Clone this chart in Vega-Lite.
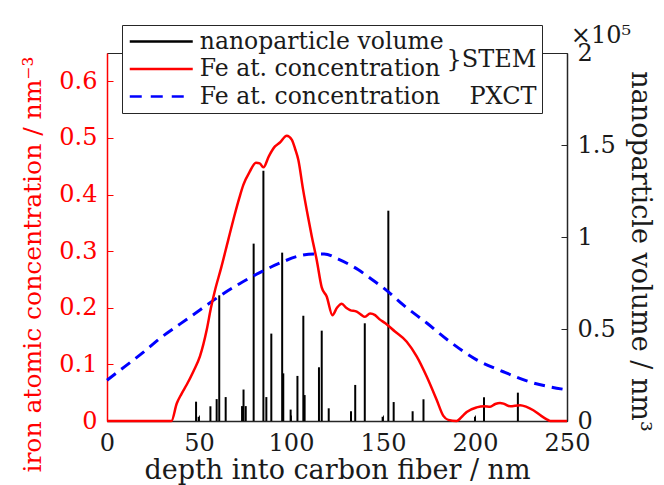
{
  "$schema": "https://vega.github.io/schema/vega-lite/v6.json",
  "width": 460,
  "height": 368,
  "autosize": {"type": "none"},
  "padding": {"left": 107, "top": 53, "right": 97, "bottom": 64},
  "background": "white",
  "config": {
    "font": "DejaVu Serif",
    "view": {"stroke": "#262626", "strokeWidth": 1},
    "axis": {
      "labelFont": "DejaVu Serif",
      "titleFont": "DejaVu Serif",
      "labelFontSize": 24,
      "titleFontSize": 27,
      "titleFontWeight": "normal",
      "grid": false,
      "tickSize": -6,
      "labelPadding": 16,
      "domainColor": "#262626",
      "tickColor": "#262626",
      "labelColor": "#1a1a1a",
      "titleColor": "#1a1a1a",
      "labelFlush": false,
      "labelOverlap": false,
      "domainWidth": 1.5
    },
    "legend": {
      "orient": "none",
      "legendX": 15,
      "legendY": -28,
      "direction": "vertical",
      "fillColor": "white",
      "strokeColor": "#262626",
      "padding": 4.5,
      "rowPadding": 3.5,
      "labelFont": "DejaVu Serif",
      "labelFontSize": 23.5,
      "labelColor": "#1a1a1a",
      "labelLimit": 0,
      "symbolType": "M-3,0H3",
      "symbolSize": 441,
      "symbolStrokeWidth": 2.5,
      "symbolOffset": 22.75,
      "labelOffset": 26.5,
      "titleFont": "DejaVu Serif",
      "titleFontSize": 24,
      "titleFontWeight": "normal",
      "titleColor": "#1a1a1a",
      "titleOrient": "right",
      "titleAnchor": "end",
      "titleLineHeight": 37,
      "titlePadding": 3,
      "titleLimit": 0
    }
  },
  "datasets": {
    "bars": [
      {"depth": 48.4, "volume": 10500},
      {"depth": 49.8, "volume": 2300},
      {"depth": 56.2, "volume": 8000},
      {"depth": 59.6, "volume": 11900},
      {"depth": 61.0, "volume": 68300},
      {"depth": 64.5, "volume": 13000},
      {"depth": 73.4, "volume": 8100},
      {"depth": 74.2, "volume": 17100},
      {"depth": 75.4, "volume": 8100},
      {"depth": 79.7, "volume": 96400},
      {"depth": 85.0, "volume": 136000},
      {"depth": 86.6, "volume": 13000},
      {"depth": 89.3, "volume": 47500},
      {"depth": 95.2, "volume": 91500},
      {"depth": 95.8, "volume": 25900},
      {"depth": 99.8, "volume": 6200},
      {"depth": 103.5, "volume": 24500},
      {"depth": 106.7, "volume": 57200},
      {"depth": 107.4, "volume": 14100},
      {"depth": 115.2, "volume": 29200},
      {"depth": 116.7, "volume": 49100},
      {"depth": 120.5, "volume": 6900},
      {"depth": 132.6, "volume": 5300},
      {"depth": 134.9, "volume": 19600},
      {"depth": 140.1, "volume": 53100},
      {"depth": 149.8, "volume": 2300},
      {"depth": 152.9, "volume": 114300},
      {"depth": 155.8, "volume": 10300},
      {"depth": 166.1, "volume": 5300},
      {"depth": 172.0, "volume": 11800},
      {"depth": 200.0, "volume": 2300},
      {"depth": 204.9, "volume": 12900},
      {"depth": 223.3, "volume": 15400}
    ],
    "stem": [
      {"depth": 0, "conc": 0},
      {"depth": 35, "conc": 0},
      {"depth": 37.9, "conc": 0.031},
      {"depth": 40.5, "conc": 0.048},
      {"depth": 43.3, "conc": 0.064},
      {"depth": 47, "conc": 0.088},
      {"depth": 50.5, "conc": 0.114},
      {"depth": 54.2, "conc": 0.161},
      {"depth": 56.5, "conc": 0.2},
      {"depth": 58.7, "conc": 0.231},
      {"depth": 62, "conc": 0.27},
      {"depth": 65.9, "conc": 0.32},
      {"depth": 69.6, "conc": 0.367},
      {"depth": 72, "conc": 0.395},
      {"depth": 74.1, "conc": 0.417},
      {"depth": 77.5, "conc": 0.44},
      {"depth": 81, "conc": 0.456},
      {"depth": 83, "conc": 0.455},
      {"depth": 85, "conc": 0.448},
      {"depth": 88, "conc": 0.468},
      {"depth": 91.3, "conc": 0.485},
      {"depth": 94, "conc": 0.492},
      {"depth": 97.7, "conc": 0.504},
      {"depth": 100.4, "conc": 0.497},
      {"depth": 102.3, "conc": 0.48},
      {"depth": 104, "conc": 0.461},
      {"depth": 106.5, "conc": 0.41},
      {"depth": 109.4, "conc": 0.358},
      {"depth": 111.3, "conc": 0.326},
      {"depth": 114, "conc": 0.284},
      {"depth": 116.7, "conc": 0.236},
      {"depth": 119.4, "conc": 0.22},
      {"depth": 122.5, "conc": 0.187},
      {"depth": 125, "conc": 0.2},
      {"depth": 127.6, "conc": 0.207},
      {"depth": 130, "conc": 0.2},
      {"depth": 132.1, "conc": 0.196},
      {"depth": 135.7, "conc": 0.193},
      {"depth": 138, "conc": 0.188},
      {"depth": 140.2, "conc": 0.184},
      {"depth": 143, "conc": 0.19},
      {"depth": 145.7, "conc": 0.187},
      {"depth": 148, "conc": 0.18},
      {"depth": 151.1, "conc": 0.173},
      {"depth": 156.5, "conc": 0.158},
      {"depth": 162.9, "conc": 0.14},
      {"depth": 168.3, "conc": 0.114},
      {"depth": 173.8, "conc": 0.078},
      {"depth": 179.2, "conc": 0.037},
      {"depth": 182.8, "conc": 0.009},
      {"depth": 185.5, "conc": 0.002},
      {"depth": 190, "conc": 0},
      {"depth": 193, "conc": 0.008},
      {"depth": 195.5, "conc": 0.016},
      {"depth": 200.9, "conc": 0.024},
      {"depth": 205, "conc": 0.026},
      {"depth": 208.2, "conc": 0.025},
      {"depth": 211, "conc": 0.03},
      {"depth": 213.6, "conc": 0.032},
      {"depth": 216, "conc": 0.03},
      {"depth": 219, "conc": 0.026},
      {"depth": 224.5, "conc": 0.028},
      {"depth": 228, "conc": 0.025},
      {"depth": 231.7, "conc": 0.019},
      {"depth": 236, "conc": 0.009},
      {"depth": 239, "conc": 0.003},
      {"depth": 241, "conc": 0},
      {"depth": 250, "conc": 0}
    ],
    "pxct": [
      {"depth": 0, "conc": 0.072},
      {"depth": 10, "conc": 0.097},
      {"depth": 20, "conc": 0.122},
      {"depth": 28.8, "conc": 0.146},
      {"depth": 40, "conc": 0.172},
      {"depth": 50.5, "conc": 0.196},
      {"depth": 60, "conc": 0.218},
      {"depth": 72.3, "conc": 0.243},
      {"depth": 83, "conc": 0.262},
      {"depth": 94, "conc": 0.279},
      {"depth": 104.9, "conc": 0.292},
      {"depth": 113, "conc": 0.295},
      {"depth": 118, "conc": 0.295},
      {"depth": 125.7, "conc": 0.286},
      {"depth": 136.6, "conc": 0.267},
      {"depth": 144, "conc": 0.25},
      {"depth": 151.1, "conc": 0.233},
      {"depth": 161, "conc": 0.205},
      {"depth": 173.8, "conc": 0.173},
      {"depth": 186.4, "conc": 0.14},
      {"depth": 200.9, "conc": 0.108},
      {"depth": 215.4, "conc": 0.087},
      {"depth": 229.9, "conc": 0.069},
      {"depth": 250, "conc": 0.055}
    ]
  },
  "layer": [
    {
      "layer": [
        {
          "data": {"name": "bars"},
          "mark": {"type": "rule", "strokeWidth": 2},
          "encoding": {
            "x": {
              "field": "depth",
              "type": "quantitative",
              "scale": {"domain": [0, 250], "nice": false},
              "axis": {
                "title": "depth into carbon fiber / nm",
                "values": [0, 50, 100, 150, 200, 250],
                "titlePadding": 2
              }
            },
            "y": {
              "field": "volume",
              "type": "quantitative",
              "scale": {"domain": [0, 200000], "nice": false},
              "axis": {
                "orient": "right",
                "title": "nanoparticle volume / nm³",
                "values": [0, 50000, 100000, 150000, 200000],
                "labelExpr": "format(datum.value / 100000, '~g')",
                "titlePadding": 10,
                "titleY": 198
              }
            },
            "y2": {"datum": 0},
            "color": {
              "datum": "vol",
              "scale": {
                "domain": ["vol", "stem", "pxct"],
                "range": ["#000000", "#ff0000", "#0000ff"]
              },
              "legend": {
                "title": ["}STEM", "\u200b\u00a0\u00a0\u00a0PXCT"],
                "labelExpr": "datum.value == 'vol' ? 'nanoparticle volume' : 'Fe at. concentration'",
                "encode": {
                  "symbols": {
                    "update": {
                      "strokeDash": {"signal": "datum.value == 'pxct' ? [12, 9] : [1, 0]"}
                    }
                  }
                }
              }
            }
          }
        },
        {
          "data": {"values": [{"label": "×10⁵"}]},
          "mark": {
            "type": "text",
            "align": "center",
            "baseline": "alphabetic",
            "dx": 34,
            "dy": -10,
            "font": "DejaVu Serif",
            "fontSize": 24,
            "color": "#1a1a1a"
          },
          "encoding": {
            "x": {"datum": 250, "type": "quantitative"},
            "y": {"datum": 200000, "type": "quantitative"},
            "text": {"field": "label"}
          }
        }
      ]
    },
    {
      "layer": [
        {
          "data": {"name": "pxct"},
          "mark": {"type": "line", "strokeWidth": 3, "strokeDash": [11, 7], "interpolate": "monotone"},
          "encoding": {
            "x": {"field": "depth", "type": "quantitative"},
            "y": {
              "field": "conc",
              "type": "quantitative",
              "scale": {"domain": [0, 0.65], "nice": false},
              "axis": {
                "orient": "left",
                "title": "iron atomic concentration / nm⁻³",
                "titleFontSize": 25,
                "values": [0, 0.1, 0.2, 0.3, 0.4, 0.5, 0.6],
                "labelExpr": "datum.value == 0 ? '0' : format(datum.value, '.1f')",
                "labelColor": "#ff0000",
                "titleColor": "#ff0000",
                "domainColor": "#ff0000",
                "tickColor": "#ff0000",
                "titlePadding": 13,
                "titleY": 211
              }
            },
            "color": {"datum": "pxct"}
          }
        },
        {
          "data": {"name": "stem"},
          "mark": {"type": "line", "strokeWidth": 2.5, "interpolate": "monotone"},
          "encoding": {
            "x": {"field": "depth", "type": "quantitative"},
            "y": {"field": "conc", "type": "quantitative"},
            "color": {"datum": "stem"}
          }
        }
      ]
    }
  ],
  "resolve": {"scale": {"y": "independent"}, "axis": {"y": "independent"}}
}
